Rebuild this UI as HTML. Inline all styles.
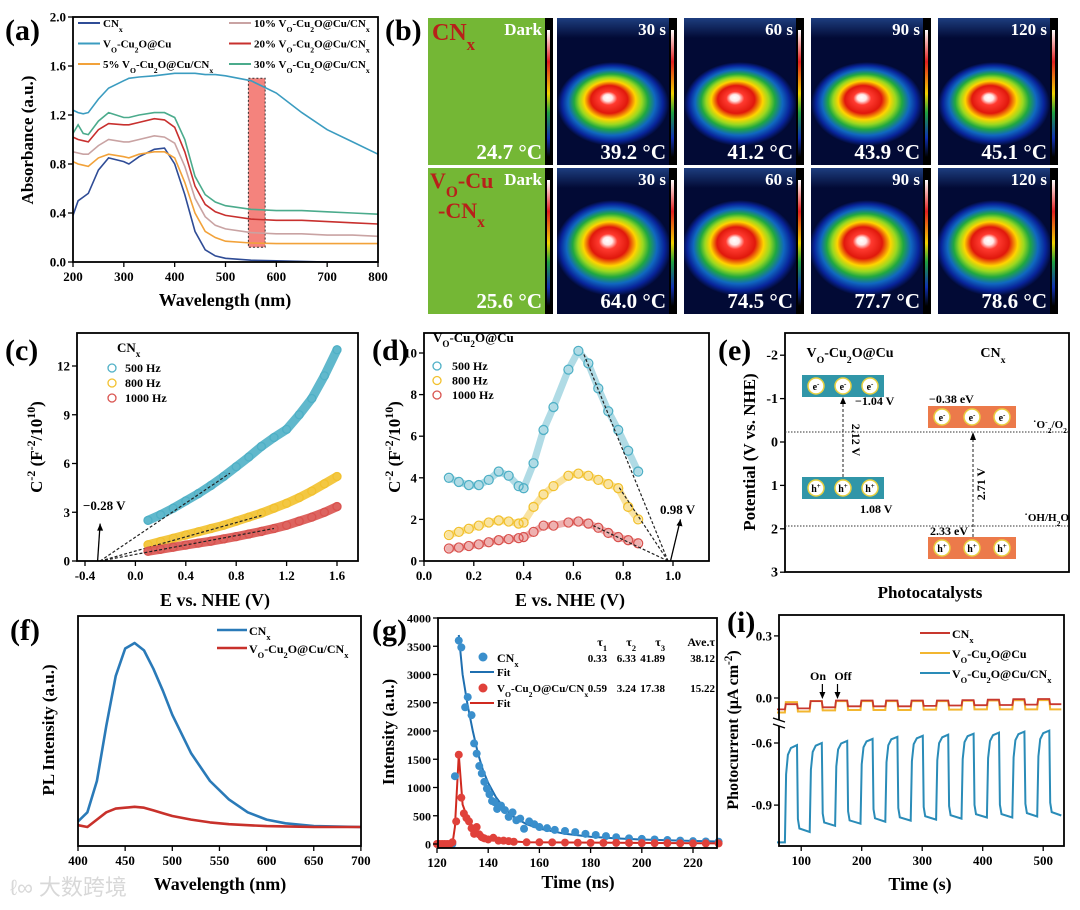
<!DOCTYPE html>
<html><head><meta charset="utf-8">
<style>
html,body{margin:0;padding:0;background:#fff;}
svg{display:block;font-family:"Liberation Serif","Noto Serif CJK SC",serif;font-weight:bold;}
</style></head>
<body>
<svg id="fig" width="1080" height="910" viewBox="0 0 1080 910" xmlns="http://www.w3.org/2000/svg">
<defs>
<radialGradient id="heat" cx="0.5" cy="0.5" r="0.5" fx="0.45" fy="0.42">
<stop offset="0" stop-color="#ffffff"/><stop offset="0.08" stop-color="#ffe8e8"/><stop offset="0.16" stop-color="#ff3a30"/>
<stop offset="0.33" stop-color="#e0180c"/><stop offset="0.46" stop-color="#ffd400"/><stop offset="0.56" stop-color="#9ad820"/>
<stop offset="0.66" stop-color="#20a840"/><stop offset="0.78" stop-color="#1068c0"/><stop offset="0.9" stop-color="#08249a"/><stop offset="1" stop-color="#020a35"/>
</radialGradient>
<linearGradient id="cbar" x1="0" y1="0" x2="0" y2="1">
<stop offset="0" stop-color="#fff"/><stop offset="0.25" stop-color="#e02020"/><stop offset="0.5" stop-color="#f0d000"/><stop offset="0.65" stop-color="#20a040"/><stop offset="0.85" stop-color="#1030b0"/><stop offset="1" stop-color="#000"/>
</linearGradient>
<linearGradient id="topband" x1="0" y1="0" x2="0" y2="1"><stop offset="0" stop-color="#3060b0"/><stop offset="1" stop-color="#020a35"/></linearGradient>
</defs>
<text x="10" y="895" font-family="'Liberation Sans','Noto Sans CJK SC',sans-serif" font-size="22" fill="#d8d8d8" font-weight="normal">ℓ∞ 大数跨境</text>
</svg>
<script>
// ---------- DATA ----------
const aWl=[200,210,220,230,250,270,300,310,330,360,380,400,420,440,460,480,500,550,600,650,700,750,800];
const aCN=[0.38,0.5,0.53,0.56,0.75,0.85,0.82,0.8,0.86,0.92,0.93,0.8,0.55,0.25,0.1,0.05,0.03,0.015,0.01,0.005,0,0,0];
const aVO=[1.24,1.22,1.21,1.22,1.33,1.42,1.48,1.5,1.51,1.52,1.53,1.54,1.54,1.54,1.53,1.53,1.52,1.48,1.38,1.22,1.08,0.98,0.88];
const a5=[0.82,0.8,0.79,0.78,0.85,0.88,0.86,0.85,0.88,0.9,0.9,0.85,0.65,0.4,0.25,0.2,0.17,0.155,0.15,0.15,0.15,0.15,0.15];
const a10=[0.9,0.89,0.88,0.88,0.95,1.0,0.98,0.98,1.0,1.03,1.02,0.97,0.78,0.52,0.37,0.3,0.27,0.24,0.23,0.23,0.22,0.22,0.21];
const a20=[1.02,1.0,0.99,0.98,1.08,1.13,1.12,1.12,1.14,1.17,1.16,1.1,0.9,0.62,0.47,0.41,0.38,0.35,0.34,0.34,0.33,0.32,0.31];
const a30=[1.05,1.12,1.05,1.04,1.15,1.22,1.18,1.18,1.2,1.22,1.22,1.18,1.0,0.7,0.55,0.49,0.46,0.43,0.42,0.42,0.41,0.4,0.39];
const aTicksX=[200,300,400,500,600,700,800];
const aTicksY=[0,0.4,0.8,1.2,1.6,2.0];

const cE=[0.1,0.2,0.3,0.4,0.5,0.6,0.7,0.8,0.9,1.0,1.1,1.2,1.3,1.4,1.5,1.6];
const c500=[2.5,2.85,3.25,3.7,4.15,4.65,5.2,5.8,6.4,7.05,7.6,8.1,9.0,10.0,11.4,13.0];
const c800=[1.0,1.2,1.4,1.6,1.8,2.0,2.2,2.45,2.7,2.95,3.25,3.55,3.9,4.3,4.75,5.2];
const c1000=[0.6,0.72,0.85,0.98,1.1,1.22,1.36,1.5,1.66,1.82,2.0,2.2,2.45,2.7,3.0,3.35];
const cTicksX=[-0.4,0.0,0.4,0.8,1.2,1.6];
const cTicksY=[0,3,6,9,12];

const dE=[0.1,0.14,0.18,0.22,0.26,0.3,0.34,0.38,0.4,0.44,0.48,0.52,0.58,0.62,0.66,0.7,0.74,0.78,0.82,0.86];
const d500=[4.0,3.8,3.65,3.65,3.9,4.3,4.1,3.6,3.5,4.7,6.3,7.4,9.2,10.1,9.5,8.3,7.2,6.3,5.3,4.3];
const d800=[1.25,1.4,1.55,1.7,1.85,1.95,1.9,1.8,1.85,2.6,3.2,3.6,4.1,4.2,4.1,3.9,3.7,3.5,2.6,2.0];
const d1000=[0.6,0.65,0.72,0.8,0.9,1.0,1.05,1.1,1.15,1.4,1.7,1.7,1.85,1.9,1.8,1.6,1.35,1.15,1.0,0.85];
const dTicksX=[0.0,0.2,0.4,0.6,0.8,1.0];
const dTicksY=[0,2,4,6,8,10];

const eTicksY=[-2,-1,0,1,2,3];

const fWl=[400,410,420,430,440,450,460,470,480,490,500,520,540,560,580,600,620,650,700];
const fCN=[3,8,25,55,82,97,100,96,86,74,61,40,25,15,8,4,2,0.5,0];
const fVO=[1,0,4,8,10,10.5,11,10.5,9,7.5,6,4,2.5,1.5,1,0.5,0.3,0,0];
const fTicksX=[400,450,500,550,600,650,700];

const gBt=[126,127,128.5,129.5,131,132,133.5,134.5,135.5,136.5,137.5,138.5,139.5,140.5,141.5,142.5,143.5,145,146.5,148,149.5,151,152.5,154,156,158,160,163,166,170,174,178,182,186,190,195,200,205,210,215,220,225,230];
const gBy=[0,1200,3600,3480,2420,2600,2280,1780,1600,1380,1250,1100,980,880,760,740,620,680,600,480,560,420,450,270,400,350,300,280,250,230,210,180,160,140,120,100,90,80,70,60,50,45,40];
const gBft=[128.5,130,132,134,136,138,140,143,146,150,155,160,170,180,190,200,215,230];
const gBfy=[3700,3000,2450,2000,1600,1300,1080,830,650,480,350,270,180,130,100,80,60,45];
const gRt=[120,121,122,123,124,125,126,127.5,128.5,129.5,130.5,131.5,132.5,133.5,134.5,135.5,136.5,137.5,138.5,140,142,144,146,148,150,155,160,165,170,175,180,185,190,195,200,205,210,215,220,225,230];
const gRy=[0,0,0,0,0,0,30,400,1580,820,540,460,400,280,180,300,170,120,100,80,110,60,60,50,40,30,30,28,25,22,20,20,20,18,15,15,15,12,10,10,10];
const gRft=[126,127,128.5,130,132,134,136,138,142,146,155,230];
const gRfy=[0,300,1580,700,450,300,200,130,80,55,30,10];
const gTicksX=[120,140,160,180,200,220];
const gTicksY=[0,500,1000,1500,2000,2500,3000,3500,4000];

const iOn=[73,114,156,198,239,281,323,365,407,449,490];
const iBlueHigh=[-0.61,-0.60,-0.59,-0.58,-0.57,-0.565,-0.56,-0.555,-0.55,-0.545,-0.54];
const iBlueLow=[-1.03,-1.0,-0.99,-0.98,-0.975,-0.97,-0.965,-0.96,-0.96,-0.955,-0.95];
const iRedHigh=[-0.03,-0.015,-0.012,-0.012,-0.012,-0.012,-0.012,-0.01,-0.008,-0.006,-0.005];
const iRedLow=[-0.05,-0.045,-0.04,-0.04,-0.04,-0.038,-0.036,-0.035,-0.034,-0.032,-0.03];
const iYelHigh=[-0.02,-0.015,-0.015,-0.015,-0.015,-0.015,-0.015,-0.013,-0.012,-0.011,-0.01];
const iYelLow=[-0.065,-0.06,-0.058,-0.058,-0.058,-0.056,-0.056,-0.055,-0.055,-0.055,-0.055];
const iTicksX=[100,200,300,400,500];
const iTicksY=[0.3,0.0,-0.6,-0.9];

const bTop=["24.7 °C","39.2 °C","41.2 °C","43.9 °C","45.1 °C"];
const bBot=["25.6 °C","64.0 °C","74.5 °C","77.7 °C","78.6 °C"];
const bTime=["Dark","30 s","60 s","90 s","120 s"];

// ---------- HELPERS ----------
const NS='http://www.w3.org/2000/svg';
const svg=document.getElementById('fig');
const defs=svg.querySelector('defs');
function mk(tag,attrs,parent){const e=document.createElementNS(NS,tag);for(const k in attrs)e.setAttribute(k,attrs[k]);(parent||svg).appendChild(e);return e;}
function T(x,y,html,size,parent,anchor,fill){const t=mk('text',{x:x,y:y,'font-size':size,'text-anchor':anchor||'start',fill:fill||'#000'},parent);t.innerHTML=html;return t;}
function grp(name){const g=mk('g',{});return g;}
function pathD(xs,ys,sx,sy){return xs.map((v,i)=>(i?'L':'M')+sx(v).toFixed(1)+','+sy(ys[i]).toFixed(1)).join('');}
const SUBX='<tspan baseline-shift="sub" font-size="70%">x</tspan>';
const SUBO='<tspan baseline-shift="sub" font-size="70%">O</tspan>';
const SUB2='<tspan baseline-shift="sub" font-size="70%">2</tspan>';
const VO='V'+SUBO+'-Cu'+SUB2+'O@Cu';
function frame(g,x0,y0,x1,y1){mk('rect',{x:x0,y:y0,width:x1-x0,height:y1-y0,fill:'none',stroke:'#000','stroke-width':1.8},g);}
function xAxis(g,ticks,sx,y,lab,fs){ticks.forEach((v,i)=>{const x=sx(v);mk('line',{x1:x,x2:x,y1:y,y2:y+5,stroke:'#000','stroke-width':1.3},g);T(x,y+19,lab?lab[i]:String(v),fs||13,g,'middle');});}
function yAxis(g,ticks,sy,x,lab,fs){ticks.forEach((v,i)=>{const y=sy(v);mk('line',{x1:x-5,x2:x,y1:y,y2:y,stroke:'#000','stroke-width':1.3},g);T(x-7,y+4.5,lab?lab[i]:String(v),fs||13,g,'end');});}
function ytitle(g,x,y,html,size){const t=T(x,y,html,size||16,g,'middle');t.setAttribute('transform','rotate(-90 '+x+' '+y+')');return t;}

// ---------- PANEL A ----------
{const g=grp('panel-a-absorbance');
const sx=v=>73+(v-200)*305/600, sy=v=>262-v*122.5;
T(5,40,'(a)',30,g);
const hl=mk('rect',{x:sx(545),y:sy(1.5),width:sx(578)-sx(545),height:sy(0.12)-sy(1.5),fill:'#f4837d','stroke':'#333','stroke-dasharray':'2,2','stroke-width':1},g);

const ser=[[aCN,'#2f4c96','CN'+SUBX],[aVO,'#3b9cc0',VO],[a5,'#f2a23a','5% '+VO+'/CN'+SUBX],[a10,'#c9a3a3','10% '+VO+'/CN'+SUBX],[a20,'#c8302e','20% '+VO+'/CN'+SUBX],[a30,'#4bab8c','30% '+VO+'/CN'+SUBX]];
ser.forEach((s,i)=>{const p=mk('path',{d:pathD(aWl,s[0],sx,sy),fill:'none',stroke:s[1],'stroke-width':1.6},g);


const col=i<3?0:1,row=i%3;const lx=col?229:78,ly=23+row*20.5;
const le=mk('line',{x1:lx,x2:lx+22,y1:ly,y2:ly,stroke:s[1],'stroke-width':2},g);


T(lx+25,ly+4,s[2],11,g);});
frame(g,73,17,378,262);xAxis(g,aTicksX,sx,262);yAxis(g,aTicksY,sy,73,aTicksY.map(v=>v.toFixed(1)));
ytitle(g,33,140,'Absorbance (a.u.)',17);T(225,306,'Wavelength (nm)',18,g,'middle');}

// ---------- PANEL B ----------
{const g=grp('panel-b-thermal-images');
T(385,40,'(b)',30,g);
const xs=[428,557,684,811,938];
[0,1].forEach(r=>{const y0=r?168:18,h=r?146:147;
xs.forEach((x,i)=>{const c=mk('g',{},g);
const w=i?112:117;
const cpid='cp'+r+'_'+i;const cp=mk('clipPath',{id:cpid},defs);mk('rect',{x:x,y:y0,width:w,height:h},cp);
const inner=mk('g',{'clip-path':'url(#'+cpid+')'},c);
if(i===0){mk('rect',{x:x,y:y0,width:w,height:h,fill:'#74b735'},inner);}
else{mk('rect',{x:x,y:y0,width:w,height:h,fill:'#020a35'},inner);
mk('rect',{x:x,y:y0,width:w,height:20,fill:'url(#topband)',opacity:0.6},inner);
mk('ellipse',{cx:x+56,cy:y0+(r?80:86),rx:r?58:56,ry:r?48:42,fill:'url(#heat)'},inner);}
mk('rect',{x:x+w,y:y0,width:8,height:h,fill:'#000'},c);
mk('rect',{x:x+w+2,y:y0+12,width:3,height:h-20,fill:'url(#cbar)'},c);
T(x+w-3,y0+17,bTime[i],17,c,'end','#fff');
T(x+w-3,y0+h-6,(r?bBot:bTop)[i],21,c,'end','#fff');
});});
T(432,40,'CN'+SUBX,24,g,'start','#b8201a');
T(430,188,'V'+SUBO+'-Cu',22,g,'start','#b8201a');T(438,218,'-CN'+SUBX,22,g,'start','#b8201a');}

// ---------- PANEL C ----------
{const g=grp('panel-c-mott-schottky-cnx');
const sx=v=>135.4+v*126, sy=v=>561-v*16.25;
T(5,360,'(c)',30,g);
[[c500,'#4fb0c6',[0.75,5.4]],[c800,'#f2c12e',[1.0,2.8]],[c1000,'#d9534f',[1.1,2.0]]].forEach((s,k)=>{
const band=mk('path',{d:pathD(cE,s[0],sx,sy),fill:'none',stroke:s[1],'stroke-width':9,'stroke-linecap':'round',opacity:0.9},g);


cE.forEach((e,i)=>{const c=mk('circle',{cx:sx(e),cy:sy(s[0][i]),r:4,fill:'none',stroke:s[1],'stroke-width':1.3},g);

});
mk('line',{x1:sx(-0.28),y1:sy(0),x2:sx(s[2][0]),y2:sy(s[2][1]),stroke:'#222','stroke-dasharray':'3,2','stroke-width':1.2},g);});
mk('line',{x1:sx(-0.3),y1:sy(0),x2:sx(-0.28),y2:sy(2.3),stroke:'#000','stroke-width':1.3},g);
mk('path',{d:`M${sx(-0.28)-3},${sy(2.3)+7}L${sx(-0.28)},${sy(2.3)}L${sx(-0.28)+3},${sy(2.3)+7}Z`},g);
T(83,510,'−0.28 V',13,g);
T(117,352,'CN'+SUBX,13,g);
['500 Hz','800 Hz','1000 Hz'].forEach((l,i)=>{const cl=['#4fb0c6','#f2c12e','#d9534f'][i];const c=mk('circle',{cx:112,cy:368+i*15,r:4,fill:'none',stroke:cl,'stroke-width':1.3},g);T(125,372+i*15,l,12,g);});
frame(g,77,333,358,561);xAxis(g,cTicksX,sx,561,cTicksX.map(v=>v.toFixed(1)));yAxis(g,cTicksY,sy,77);
ytitle(g,42,447,'C<tspan baseline-shift="super" font-size="70%">-2</tspan> (F<tspan baseline-shift="super" font-size="70%">-2</tspan>/10<tspan baseline-shift="super" font-size="70%">10</tspan>)',17);
T(215,606,'E vs. NHE (V)',18,g,'middle');}

// ---------- PANEL D ----------
{const g=grp('panel-d-mott-schottky-vo');
const sx=v=>424+v*249, sy=v=>561-v*20.8;
T(372,360,'(d)',30,g);
[[d500,'#4fb0c6',[0.64,10]],[d800,'#f2c12e',[0.78,3.6]],[d1000,'#d9534f',[0.68,1.7]]].forEach((s,k)=>{
const band=mk('path',{d:pathD(dE,s[0],sx,sy),fill:'none',stroke:s[1],'stroke-width':7,'stroke-linejoin':'round','stroke-linecap':'round',opacity:0.45},g);


dE.forEach((e,i)=>{const c=mk('circle',{cx:sx(e),cy:sy(s[0][i]),r:4.5,fill:'none',stroke:s[1],'stroke-width':1.3},g);

});
mk('line',{x1:sx(0.98),y1:sy(0),x2:sx(s[2][0]),y2:sy(s[2][1]),stroke:'#222','stroke-dasharray':'3,2','stroke-width':1.2},g);});
mk('line',{x1:sx(0.99),y1:sy(0),x2:sx(1.03),y2:sy(2.0),stroke:'#000','stroke-width':1.3},g);
mk('path',{d:`M${sx(1.03)-4},${sy(2.0)+6}L${sx(1.03)},${sy(2.0)}L${sx(1.03)+2},${sy(2.0)+7}Z`},g);
T(660,514,'0.98 V',13,g);
T(433,342,VO,13,g);
['500 Hz','800 Hz','1000 Hz'].forEach((l,i)=>{const cl=['#4fb0c6','#f2c12e','#d9534f'][i];const c=mk('circle',{cx:437,cy:366+i*14.5,r:4,fill:'none',stroke:cl,'stroke-width':1.3},g);T(452,370+i*14.5,l,12,g);});
frame(g,424,333,709,561);xAxis(g,dTicksX,sx,561,dTicksX.map(v=>v.toFixed(1)));yAxis(g,dTicksY,sy,424);
ytitle(g,400,447,'C<tspan baseline-shift="super" font-size="70%">-2</tspan> (F<tspan baseline-shift="super" font-size="70%">-2</tspan>/10<tspan baseline-shift="super" font-size="70%">10</tspan>)',17);
T(570,606,'E vs. NHE (V)',18,g,'middle');}

// ---------- PANEL E ----------
{const g=grp('panel-e-band-diagram');
const sy=v=>442+v*43.4;
T(718,360,'(e)',30,g);
frame(g,785,333,1069,572);yAxis(g,eTicksY,sy,785,null,14);
ytitle(g,755,452,'Potential (V vs. NHE)',17);T(930,598,'Photocatalysts',17,g,'middle');
T(850,357,VO,14,g,'middle');T(993,357,'CN'+SUBX,14,g,'middle');
mk('line',{x1:785,x2:1069,y1:432,y2:432,stroke:'#333','stroke-dasharray':'1.5,1.5'},g);
mk('line',{x1:785,x2:1069,y1:526,y2:526,stroke:'#333','stroke-dasharray':'1.5,1.5'},g);
function box(x,y,w,col,lab,name){const b=mk('g',{},g);
mk('rect',{x:x,y:y,width:w,height:22,fill:col},b);[0,1,2].forEach(i=>{const cx=x+14+i*(w-28)/2;mk('circle',{cx:cx,cy:y+11,r:8,fill:'#fff',stroke:'#e8d040','stroke-width':1.5},b);T(cx,y+15,lab,10,b,'middle');});}
box(802,375,82,'#3196a8','e<tspan baseline-shift="super" font-size="70%">-</tspan>','vo-conduction-band');
box(802,477,82,'#3196a8','h<tspan baseline-shift="super" font-size="70%">+</tspan>','vo-valence-band');
box(928,406,88,'#ec7a4a','e<tspan baseline-shift="super" font-size="70%">-</tspan>','cnx-conduction-band');
box(928,537,88,'#ec7a4a','h<tspan baseline-shift="super" font-size="70%">+</tspan>','cnx-valence-band');
mk('line',{x1:843,x2:843,y1:477,y2:400,stroke:'#222','stroke-dasharray':'3,2'},g);mk('path',{d:'M840,404L843,397L846,404Z'},g);
mk('line',{x1:973,x2:973,y1:537,y2:436,stroke:'#222','stroke-dasharray':'3,2'},g);mk('path',{d:'M970,440L973,432L976,440Z'},g);
T(855,405,'−1.04 V',12,g);T(860,513,'1.08 V',12,g);T(929,403,'−0.38 eV',12,g);T(930,535,'2.33 eV',12,g);
let t=T(852,440,'2.12 V',12,g,'middle');t.setAttribute('transform','rotate(90 852 440)');
t=T(985,484,'2.71 V',12,g,'middle');t.setAttribute('transform','rotate(-90 985 484)');
T(1067,428,'˙O<tspan baseline-shift="super" font-size="70%">-</tspan><tspan baseline-shift="sub" font-size="70%">2</tspan>/O<tspan baseline-shift="sub" font-size="70%">2</tspan>',11,g,'end');
T(1069,521,'˙OH/H<tspan baseline-shift="sub" font-size="70%">2</tspan>O',11,g,'end');}

// ---------- PANEL F ----------
{const g=grp('panel-f-pl-spectra');
const sx=v=>78+(v-400)*0.943, sy=v=>827-v*1.84;
T(10,640,'(f)',30,g);
[[fCN,'#2a7ab8','CN'+SUBX],[fVO,'#c8312b',VO+'/CN'+SUBX]].forEach((s,i)=>{
const p=mk('path',{d:pathD(fWl,s[0],sx,sy),fill:'none',stroke:s[1],'stroke-width':2.6,'stroke-linejoin':'round'},g);


const le=mk('line',{x1:217,x2:247,y1:630+i*18,y2:630+i*18,stroke:s[1],'stroke-width':2.6},g);


T(249,635+i*18,s[2],12,g);});
frame(g,78,616,361,846);xAxis(g,fTicksX,sx,846);
ytitle(g,54,730,'PL Intensity (a.u.)',17);T(220,890,'Wavelength (nm)',18,g,'middle');}

// ---------- PANEL G ----------
{const g=grp('panel-g-trpl');
const sx=v=>437+(v-120)*2.56, sy=v=>844-v*0.0565;
T(372,640,'(g)',30,g);
const bf=mk('path',{d:pathD(gBft,gBfy,sx,sy),fill:'none',stroke:'#1f6fb0','stroke-width':2},g);

const rf=mk('path',{d:pathD(gRft,gRfy,sx,sy),fill:'none',stroke:'#d02a20','stroke-width':2},g);

gBt.forEach((t,i)=>{const c=mk('circle',{cx:sx(t),cy:sy(gBy[i]),r:4,fill:'#3a8fcc'},g);

});
gRt.forEach((t,i)=>{const c=mk('circle',{cx:sx(t),cy:sy(gRy[i]),r:4,fill:'#e0413a'},g);

});
frame(g,438,618,717,848);xAxis(g,gTicksX,sx,848);yAxis(g,gTicksY,sy,438,null,12);
ytitle(g,394,732,'Intensity (a.u.)',17);T(578,888,'Time (ns)',18,g,'middle');
mk('circle',{cx:483,cy:657,r:4.5,fill:'#3a8fcc'},g);T(497,662,'CN'+SUBX,12,g);
mk('line',{x1:470,x2:494,y1:672,y2:672,stroke:'#1f6fb0','stroke-width':2},g);T(497,676,'Fit',11,g);
mk('circle',{cx:483,cy:688,r:4.5,fill:'#e0413a'},g);T(497,692,VO+'/CN'+SUBX,11,g);
mk('line',{x1:470,x2:494,y1:703,y2:703,stroke:'#d02a20','stroke-width':2},g);T(497,707,'Fit',11,g);
const cols=[607,636,665,715];
['τ<tspan baseline-shift="sub" font-size="70%">1</tspan>','τ<tspan baseline-shift="sub" font-size="70%">2</tspan>','τ<tspan baseline-shift="sub" font-size="70%">3</tspan>','Ave.τ'].forEach((h,i)=>T(cols[i],646,h,12,g,'end'));
['0.33','6.33','41.89','38.12'].forEach((h,i)=>T(cols[i],662,h,11,g,'end'));
['0.59','3.24','17.38','15.22'].forEach((h,i)=>T(cols[i],692,h,11,g,'end'));}

// ---------- PANEL I ----------
{const g=grp('panel-i-photocurrent');
const sx=v=>777+(v-60)*0.605;
const sy=v=>v>-0.3?698-v*207:743-(v+0.6)*207;
T(727,632,'(i)',30,g);
function wave(high,low,start,sharp){const xs=[60,iOn[0]],ys=[start,start];
iOn.forEach((on,i)=>{const off=on+20,nxt=i+1<iOn.length?iOn[i+1]:530;const pl=i?low[i-1]:start,h=high[i],l=low[i];
if(sharp){xs.push(on+1.5,off,off+1.5,nxt);ys.push(h,h,l,l);}
else{xs.push(on+2,on+5,on+10,off,off+1.5,off+4,nxt);ys.push(pl+0.7*(h-pl),pl+0.9*(h-pl),pl+0.97*(h-pl),h,l+0.15*(h-l),l+0.04*(h-l),l);}});
return [xs,ys];}
const bw=wave(iBlueHigh,iBlueLow,-1.08,false);
const bp=mk('path',{d:pathD(bw[0],bw[1],sx,sy),fill:'none',stroke:'#2a8cb8','stroke-width':2},g);

const yw=wave(iYelHigh,iYelLow,-0.07,true);
const yp=mk('path',{d:pathD(yw[0],yw[1],sx,sy),fill:'none',stroke:'#f2b630','stroke-width':2},g);

const rw=wave(iRedHigh,iRedLow,-0.055,true);
const rp=mk('path',{d:pathD(rw[0],rw[1],sx,sy),fill:'none',stroke:'#c8382e','stroke-width':1.8},g);

frame(g,779,615,1064,846);xAxis(g,iTicksX,sx,846);yAxis(g,iTicksY,sy,779,['0.3','0.0','-0.6','-0.9']);
mk('rect',{x:772,y:720,width:14,height:6,fill:'#fff'},g);
mk('line',{x1:773,x2:785,y1:718,y2:722,stroke:'#000','stroke-width':1.3},g);mk('line',{x1:773,x2:785,y1:724,y2:728,stroke:'#000','stroke-width':1.3},g);
ytitle(g,738,730,'Photocurrent (μA cm<tspan baseline-shift="super" font-size="70%">-2</tspan>)',16);T(920,890,'Time (s)',18,g,'middle');
T(818,680,'On',12,g,'middle');T(843,680,'Off',12,g,'middle');
[135,160].forEach(t=>{mk('line',{x1:sx(t),x2:sx(t),y1:684,y2:697,stroke:'#000','stroke-width':1.2},g);mk('path',{d:`M${sx(t)-3},${692}L${sx(t)},${699}L${sx(t)+3},${692}Z`},g);});
[['CN'+SUBX,'#c8382e'],[VO,'#f2b630'],[VO+'/CN'+SUBX,'#2a8cb8']].forEach((s,i)=>{
const le=mk('line',{x1:920,x2:950,y1:633+i*20,y2:633+i*20,stroke:s[1],'stroke-width':2},g);


T(952,638+i*20,s[0],12,g);});}
</script>
</body></html>
